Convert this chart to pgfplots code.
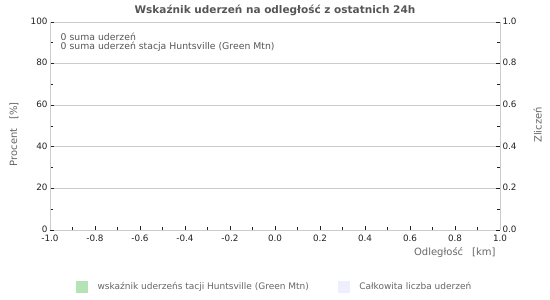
\documentclass[border=0pt]{standalone}
\usepackage{fontspec}
\setmainfont{DejaVu Sans}
\usepackage{pgfplots}
\pgfplotsset{compat=1.18}
\definecolor{gridc}{HTML}{CCCCCC}
\definecolor{titc}{HTML}{555555}
\definecolor{labc}{HTML}{666666}
\definecolor{tickc}{HTML}{222222}
\definecolor{leggreen}{HTML}{B5E3B5}
\definecolor{leglav}{HTML}{EEEEFF}
\begin{document}
\begin{tikzpicture}
\useasboundingbox (0pt,0pt) rectangle (550pt,300pt);
\begin{axis}[at={(50pt,70pt)}, anchor=south west, scale only axis,
  width=450pt, height=208pt,
  xmin=-1, xmax=1, ymin=0, ymax=100,
  axis line style={draw=none},
  xtick={-1,-0.8,-0.6,-0.4,-0.2,0,0.2,0.4,0.6,0.8,1},
  ytick={0,20,40,60,80,100},
  minor x tick num=1, minor y tick num=1,
  xtick pos=bottom, ytick pos=left,
  tick align=inside,
  major tick length=4pt, minor tick length=3pt,
  tick style={tickc, line width=0.6pt},
  ymajorgrids, major grid style={gridc, line width=0.6pt},
  /pgf/number format/assume math mode=true,
  xticklabel style={/pgf/number format/fixed, /pgf/number format/fixed zerofill, /pgf/number format/precision=1, font=\fontsize{8.8}{10}\selectfont, text=tickc, yshift=-1pt},
  yticklabel style={font=\fontsize{8.8}{10}\selectfont, text=tickc, xshift=1pt, yshift=1pt},
  legend columns=2,
  legend style={draw=none, fill=none, at={(rel axis cs:0.051,-0.274)}, anchor=west,
    font=\fontsize{9}{10}\selectfont\color{labc},
    /tikz/every even column/.append style={column sep=27pt}},
  legend image code/.code={\fill[#1] (0pt,-5.5pt) rectangle (11pt,5.5pt);},
  clip=false,
]
\addlegendimage{leggreen}
\addlegendentry{\hspace{8pt}wskaźnik uderzeńs tacji Huntsville (Green Mtn)}
\addlegendimage{leglav}
\addlegendentry{\hspace{8pt}Całkowita liczba uderzeń}
\draw[gridc, line width=0.6pt] (rel axis cs:0,0) -- (rel axis cs:0,1);
\draw[gridc, line width=0.6pt] (rel axis cs:1,0) -- (rel axis cs:1,1);
\node[font=\bfseries\fontsize{10.5}{12}\selectfont, text=titc] at (rel axis cs:0.5,1.058) {Wskaźnik uderzeń na odległość z ostatnich 24h};
\node[anchor=west, font=\fontsize{9.3}{11}\selectfont, text=titc] at (rel axis cs:0.016,0.928) {0 suma uderzeń};
\node[anchor=west, font=\fontsize{9.3}{11}\selectfont, text=titc] at (rel axis cs:0.016,0.88) {0 suma uderzeń stacja Huntsville (Green Mtn)};
\node[anchor=east, font=\fontsize{10}{12}\selectfont, text=labc] at (rel axis cs:0.998,-0.106) {Odległość\hspace{9pt}[km]};
\node[rotate=90, font=\fontsize{10}{12}\selectfont, text=labc] at (rel axis cs:-0.08,0.46) {Procent\hspace{9pt}[\%]};
\node[rotate=90, font=\fontsize{10}{12}\selectfont, text=labc] at (rel axis cs:1.084,0.505) {Zliczeń};
\end{axis}
\begin{axis}[at={(50pt,70pt)}, anchor=south west, scale only axis,
  width=450pt, height=208pt,
  xmin=-1, xmax=1, ymin=0, ymax=1,
  axis line style={draw=none},
  hide x axis,
  axis y line*=right,
  ytick={0,0.2,0.4,0.6,0.8,1},
  minor y tick num=1,
  tick align=inside,
  major tick length=4pt, minor tick length=3pt,
  tick style={tickc, line width=0.6pt},
  /pgf/number format/assume math mode=true,
  yticklabel style={/pgf/number format/fixed, /pgf/number format/fixed zerofill, /pgf/number format/precision=1, font=\fontsize{8.8}{10}\selectfont, text=tickc, xshift=-1pt, yshift=1pt},
]
\end{axis}
\end{tikzpicture}
\end{document}
